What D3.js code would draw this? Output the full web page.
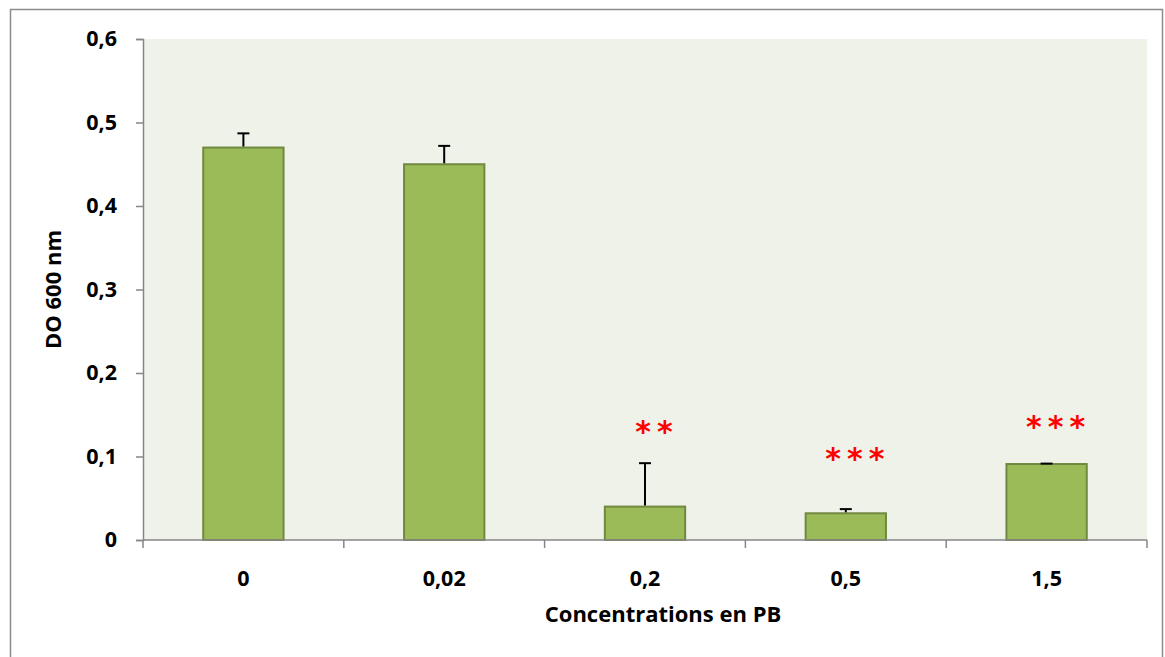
<!DOCTYPE html>
<html>
<head>
<meta charset="utf-8">
<style>
body { margin: 0; background: #fff; }
text { font-family: "Open Sans", "Noto Sans", sans-serif; font-weight: bold; fill: #000; }
.axis path, .axis line { stroke: #868686; stroke-width: 1.5px; }
</style>
</head>
<body>
<script src="https://cdn.jsdelivr.net/npm/d3@7/dist/d3.min.js"></script>
<script>
// data
var categories = ["0", "0,02", "0,2", "0,5", "1,5"];
var values = [0.47, 0.45, 0.04, 0.032, 0.091];
var errors = [0.017, 0.022, 0.052, 0.005, 0.0005];
var stars = ["", "", "**", "***", "***"];
var starY = [0, 0, 0.117, 0.085, 0.123];
var yTicks = [0, 0.1, 0.2, 0.3, 0.4, 0.5, 0.6];

var width = 1165, height = 657;
var margin = {left: 143, right: 18, top: 39, bottom: 117};

var svg = d3.select("body").append("svg")
    .attr("width", width)
    .attr("height", height);

// outer frame
svg.append("rect")
    .attr("x", 10.5).attr("y", 9.5)
    .attr("width", 1152).attr("height", 660)
    .attr("fill", "none")
    .attr("stroke", "#8c8c8c")
    .attr("stroke-width", 1.5);

var x = d3.scaleBand()
    .domain(categories)
    .range([margin.left, width - margin.right])
    .paddingInner(0.6).paddingOuter(0.3);

var y = d3.scaleLinear()
    .domain([0, 0.6])
    .range([height - margin.bottom, margin.top]);

// plot background
svg.append("rect")
    .attr("x", margin.left).attr("y", margin.top)
    .attr("width", width - margin.right - margin.left)
    .attr("height", y(0) - margin.top)
    .attr("fill", "#eff2e9");

// bars
svg.selectAll(".bar")
    .data(values)
    .enter().append("rect")
    .attr("class", "bar")
    .attr("x", (d, i) => x(categories[i]))
    .attr("y", d => y(d))
    .attr("width", x.bandwidth())
    .attr("height", d => y(0) - y(d))
    .attr("fill", "#9bbb59")
    .attr("stroke", "#71893f")
    .attr("stroke-width", 2);

// error bars
var eb = svg.selectAll(".err")
    .data(values)
    .enter().append("g")
    .attr("class", "err")
    .attr("transform", (d, i) => "translate(" + (x(categories[i]) + x.bandwidth() / 2) + ",0)");
eb.append("line")
    .attr("x1", 0).attr("x2", 0)
    .attr("y1", d => y(d) - 1)
    .attr("y2", (d, i) => y(d + errors[i]))
    .attr("stroke", "#000").attr("stroke-width", 2);
eb.append("line")
    .attr("x1", -6).attr("x2", 6)
    .attr("y1", (d, i) => y(d + errors[i]))
    .attr("y2", (d, i) => y(d + errors[i]))
    .attr("stroke", "#000").attr("stroke-width", 2);

// significance stars
svg.selectAll(".star")
    .data(stars)
    .enter().append("text")
    .attr("class", "star")
    .attr("x", (d, i) => x(categories[i]) + x.bandwidth() / 2 + 12)
    .attr("y", (d, i) => y(starY[i]))
    .attr("text-anchor", "middle")
    .style("fill", "#ff0000")
    .style("font-family", "'DejaVu Sans', sans-serif")
    .style("font-weight", "bold")
    .style("font-size", "30px")
    .style("letter-spacing", "6px")
    .text(d => d);

// y axis
var yAxis = svg.append("g")
    .attr("class", "axis")
    .attr("transform", "translate(" + margin.left + ",0)")
    .call(d3.axisLeft(y).tickValues(yTicks).tickSizeOuter(0).tickSize(7).tickPadding(19)
        .tickFormat(d => d === 0 ? "0" : d3.format(".1f")(d).replace(".", ",")));
yAxis.selectAll("text").style("font-size", "21.5px").style("font-family", "'Open Sans', sans-serif");

// x axis with ticks on category boundaries
var xAxis = svg.append("g")
    .attr("class", "axis")
    .attr("transform", "translate(0," + y(0) + ")");
xAxis.append("line")
    .attr("x1", margin.left).attr("x2", width - margin.right)
    .attr("y1", 0).attr("y2", 0)
    .attr("stroke", "#868686").attr("stroke-width", 1.5);
var step = (width - margin.right - margin.left) / categories.length;
xAxis.selectAll(".xt")
    .data(d3.range(categories.length + 1))
    .enter().append("line")
    .attr("x1", d => margin.left + d * step)
    .attr("x2", d => margin.left + d * step)
    .attr("y1", 0).attr("y2", 8)
    .attr("stroke", "#868686").attr("stroke-width", 1.5);
xAxis.selectAll(".xl")
    .data(categories)
    .enter().append("text")
    .attr("x", d => x(d) + x.bandwidth() / 2)
    .attr("y", 46)
    .attr("text-anchor", "middle")
    .style("font-size", "21.5px")
    .text(d => d);

// axis titles
svg.append("text")
    .attr("transform", "translate(61," + ((margin.top + y(0)) / 2) + ") rotate(-90)")
    .attr("text-anchor", "middle")
    .style("font-size", "22px")
    .text("DO 600 nm");

svg.append("text")
    .attr("x", 663)
    .attr("y", 622)
    .attr("text-anchor", "middle")
    .style("font-size", "22px")
    .text("Concentrations en PB");
</script>
</body>
</html>
